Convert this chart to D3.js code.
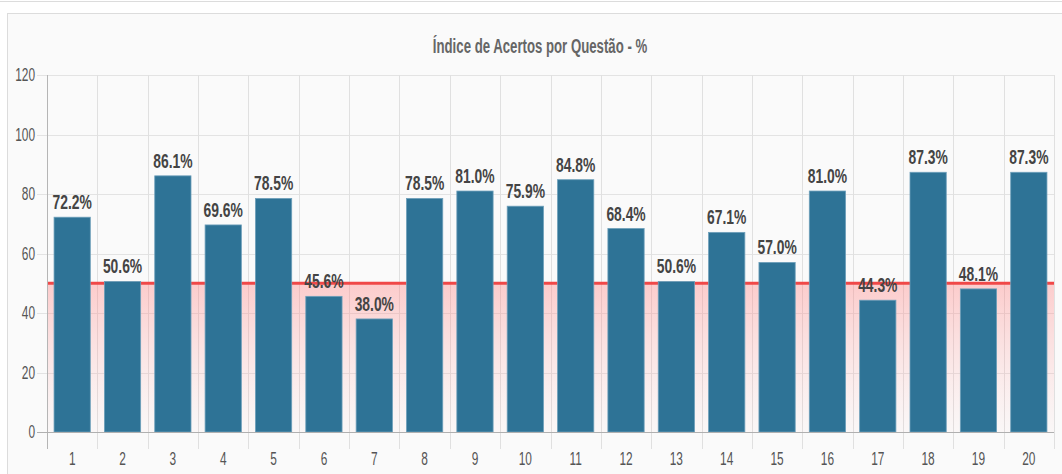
<!DOCTYPE html>
<html>
<head>
<meta charset="utf-8">
<script src="https://cdn.jsdelivr.net/npm/d3@7"></script>
<style>
  html, body { margin: 0; padding: 0; background: #fff; }
  svg { display: block; }
</style>
</head>
<body>
<svg id="chart" width="1062" height="474"></svg>
<script>
// Question numbers and the share of correct answers for each (%)
const questions = ["1","2","3","4","5","6","7","8","9","10","11","12","13","14","15","16","17","18","19","20"];
const hitRates = [72.2, 50.6, 86.1, 69.6, 78.5, 45.6, 38.0, 78.5, 81.0, 75.9, 84.8, 68.4, 50.6, 67.1, 57.0, 81.0, 44.3, 87.3, 48.1, 87.3];
const yTicks = [0, 20, 40, 60, 80, 100, 120];
const referenceLevel = 50;
const chartTitle = "Índice de Acertos por Questão - %";

const svg = d3.select("#chart");
const W = 1062, H = 474;
const margin = { left: 47, right: 8, top: 75, bottom: 42 };
const plotL = margin.left, plotR = W - margin.right;
const plotT = margin.top, plotB = H - margin.bottom;
const squeeze = 0.66; // narrow lettering

// panel background
svg.append("line").attr("x1", 0).attr("x2", W).attr("y1", 1.5).attr("y2", 1.5)
  .attr("stroke", "#dcdcdc").attr("stroke-width", 1);
svg.append("rect").attr("x", 7.5).attr("y", 13.5).attr("width", W + 10).attr("height", H)
  .attr("fill", "#fafafa").attr("stroke", "#dcdcdc");

const x = d3.scaleBand().domain(questions).range([plotL, plotR])
  .paddingInner(0.28).paddingOuter(0.14);
const y = d3.scaleLinear().domain([0, 120]).range([plotB, plotT]);
const step = x.step();
const edge = q => x(q) - step * 0.14;

// horizontal grid + y ticks
const gY = svg.append("g");
gY.selectAll("line").data(yTicks.filter(t => t > 0)).join("line")
  .attr("x1", plotL - 10).attr("x2", plotR)
  .attr("y1", d => Math.round(y(d)) + 0.5).attr("y2", d => Math.round(y(d)) + 0.5)
  .attr("stroke", "#e3e3e3");
gY.selectAll("text").data(yTicks).join("text")
  .attr("transform", d => `translate(${plotL - 12},${y(d) + 6}) scale(${squeeze},1)`)
  .attr("text-anchor", "end")
  .attr("font-family", "'Liberation Sans', Arial, sans-serif")
  .attr("font-size", 18).attr("fill", "#555")
  .text(d => d);

// vertical grid at band edges, extended below the axis as ticks
const edges = questions.map(edge).concat([plotR]);
svg.append("g").selectAll("line").data(edges).join("line")
  .attr("x1", d => Math.round(d) + 0.5).attr("x2", d => Math.round(d) + 0.5)
  .attr("y1", plotT).attr("y2", plotB + 17)
  .attr("stroke", (d, i) => i === 0 ? "#b5b5b5" : "#e0e0e0");

// reference area under the threshold line
const defs = svg.append("defs");
const grad = defs.append("linearGradient").attr("id", "refFill")
  .attr("x1", 0).attr("y1", 0).attr("x2", 0).attr("y2", 1);
grad.append("stop").attr("offset", "0%").attr("stop-color", "#ff8080").attr("stop-opacity", 0.38);
grad.append("stop").attr("offset", "100%").attr("stop-color", "#ffb0b0").attr("stop-opacity", 0.04);
svg.append("rect").attr("x", plotL + 1).attr("width", plotR - plotL - 1)
  .attr("y", y(referenceLevel)).attr("height", y(0) - y(referenceLevel))
  .attr("fill", "url(#refFill)");
svg.append("line").attr("x1", plotL + 1).attr("x2", plotR)
  .attr("y1", y(referenceLevel)).attr("y2", y(referenceLevel))
  .attr("stroke", "#f04848").attr("stroke-width", 3);

// bars
svg.append("g").selectAll("rect").data(hitRates).join("rect")
  .attr("x", (d, i) => x(questions[i]))
  .attr("width", x.bandwidth())
  .attr("y", d => y(d))
  .attr("height", d => y(0) - y(d))
  .attr("fill", "#2e7396")
  .attr("stroke", "#6d9fba").attr("stroke-width", 0.8);

// x axis line
svg.append("line").attr("x1", plotL - 10).attr("x2", plotR)
  .attr("y1", plotB + 0.5).attr("y2", plotB + 0.5).attr("stroke", "#b0b0b0");

// x tick labels
svg.append("g").selectAll("text").data(questions).join("text")
  .attr("transform", d => `translate(${x(d) + x.bandwidth() / 2},${plotB + 33}) scale(${squeeze},1)`)
  .attr("text-anchor", "middle")
  .attr("font-family", "'Liberation Sans', Arial, sans-serif")
  .attr("font-size", 18).attr("fill", "#555")
  .text(d => d);

// value labels
svg.append("g").selectAll("text").data(hitRates).join("text")
  .attr("transform", (d, i) => `translate(${x(questions[i]) + x.bandwidth() / 2},${y(d) - 8}) scale(${squeeze},1)`)
  .attr("text-anchor", "middle")
  .attr("font-family", "'Liberation Sans', Arial, sans-serif")
  .attr("font-weight", "bold")
  .attr("font-size", 21).attr("fill", "#444")
  .text(d => d.toFixed(1) + "%");

// title
svg.append("text")
  .attr("transform", `translate(540,53) scale(${squeeze},1)`)
  .attr("text-anchor", "middle")
  .attr("font-family", "'Liberation Sans', Arial, sans-serif")
  .attr("font-weight", "bold")
  .attr("font-size", 20).attr("fill", "#666")
  .text(chartTitle);
</script>
</body>
</html>
